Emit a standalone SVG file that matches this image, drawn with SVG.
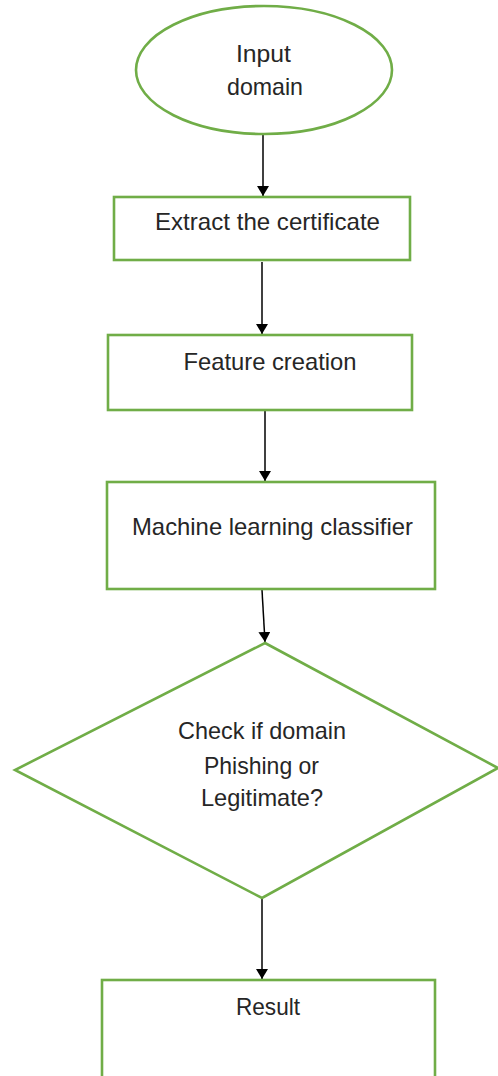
<svg xmlns="http://www.w3.org/2000/svg" width="498" height="1076" viewBox="0 0 498 1076">
  <style>
    .shape { fill: #ffffff; stroke: #70ad47; stroke-width: 2.6; }
    .label { font-family: "Liberation Sans", Arial, sans-serif; font-size: 24px; fill: #262626; text-anchor: middle; }
    .edge { stroke: #000000; stroke-width: 1.5; fill: none; marker-end: url(#arrow); }
  </style>
  <defs>
    <marker id="arrow" viewBox="0 0 10 12" refX="10" refY="6" markerWidth="10" markerHeight="12" markerUnits="userSpaceOnUse" orient="auto">
      <path d="M0,0 L10,6 L0,12 Z" fill="#000000"/>
    </marker>
  </defs>
  <rect width="498" height="1076" fill="#ffffff"/>

  <g id="connectors">
    <line class="edge" x1="263" y1="135" x2="263" y2="196"/>
    <line class="edge" x1="262" y1="262" x2="262" y2="334"/>
    <line class="edge" x1="265" y1="411" x2="265" y2="481"/>
    <line class="edge" x1="262" y1="590" x2="265" y2="642"/>
    <line class="edge" x1="262" y1="898" x2="262" y2="979"/>
  </g>

  <g id="input-domain">
    <ellipse class="shape" cx="264" cy="70" rx="128" ry="64"/>
    <text class="label" x="263.5" y="62" textLength="55" lengthAdjust="spacingAndGlyphs">Input</text>
    <text class="label" x="265" y="95" textLength="76" lengthAdjust="spacingAndGlyphs">domain</text>
  </g>

  <g id="extract-certificate">
    <rect class="shape" x="114" y="197" width="296" height="63"/>
    <text class="label" x="267.5" y="230" textLength="225" lengthAdjust="spacingAndGlyphs">Extract the certificate</text>
  </g>

  <g id="feature-creation">
    <rect class="shape" x="108" y="335" width="304" height="75"/>
    <text class="label" x="270" y="370" textLength="173" lengthAdjust="spacingAndGlyphs">Feature creation</text>
  </g>

  <g id="ml-classifier">
    <rect class="shape" x="107" y="482" width="328" height="107"/>
    <text class="label" x="272.5" y="535" textLength="281" lengthAdjust="spacingAndGlyphs">Machine learning classifier</text>
  </g>

  <g id="decision">
    <polygon class="shape" points="265,643 498,768 262,898 15,770"/>
    <text class="label" x="262" y="739" textLength="168" lengthAdjust="spacingAndGlyphs">Check if domain</text>
    <text class="label" x="261.5" y="774" textLength="115" lengthAdjust="spacingAndGlyphs">Phishing or</text>
    <text class="label" x="262" y="806" textLength="122" lengthAdjust="spacingAndGlyphs">Legitimate?</text>
  </g>

  <g id="result">
    <rect class="shape" x="102" y="980" width="333" height="110"/>
    <text class="label" x="268" y="1015" textLength="64" lengthAdjust="spacingAndGlyphs">Result</text>
  </g>
</svg>
